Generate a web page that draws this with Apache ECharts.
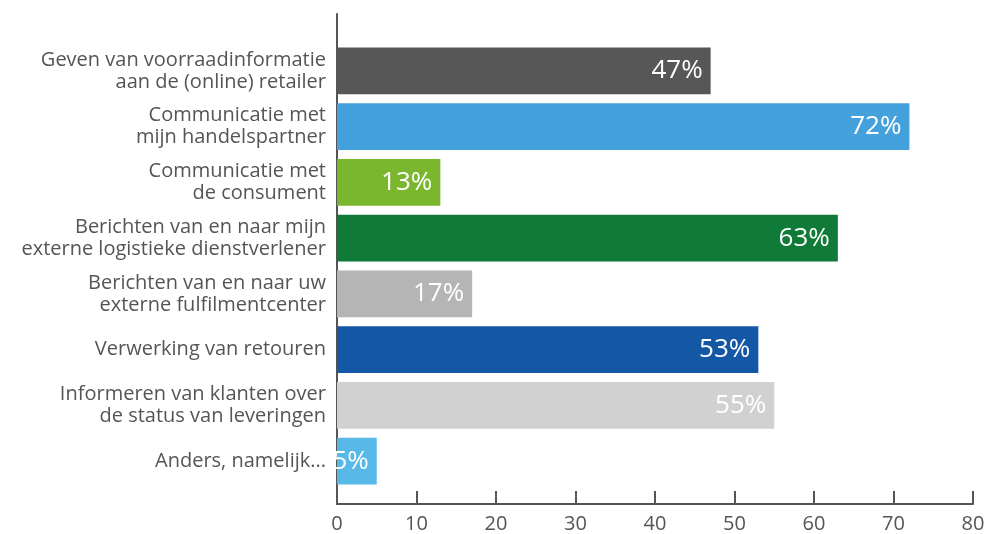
<!DOCTYPE html>
<html>
<head>
<meta charset="utf-8">
<script src="https://cdn.jsdelivr.net/npm/echarts@6/dist/echarts.min.js"></script>
<style>
  html, body { margin: 0; padding: 0; background: #fff; }
  #chart { width: 1005px; height: 534px; }
</style>
</head>
<body>
<div id="chart"></div>
<script>
var categories = [
  'Geven van voorraadinformatie\naan de (online) retailer',
  'Communicatie met\nmijn handelspartner',
  'Communicatie met\nde consument',
  'Berichten van en naar mijn\nexterne logistieke dienstverlener',
  'Berichten van en naar uw\nexterne fulfilmentcenter',
  'Verwerking van retouren',
  'Informeren van klanten over\nde status van leveringen',
  'Anders, namelijk...'
];
var values = [47, 72, 13, 63, 17, 53, 55, 5];
var barColors = ['#575757', '#45a1db', '#7ab62e', '#107a38', '#b5b5b5', '#1457a5', '#d1d1d1', '#58b8e8'];
var xTicks = [0, 10, 20, 30, 40, 50, 60, 70, 80];

var font = '"Open Sans", "Noto Sans", sans-serif';
var chart = echarts.init(document.getElementById('chart'));

var option = {
  animation: false,
  grid: [
    { left: 337, right: 32, top: 43, height: 446 },
    { left: 337, right: 32, top: 14, height: 500 }
  ],
  xAxis: [
    { gridIndex: 0, type: 'value', min: 0, max: 80, show: false },
    {
      gridIndex: 1, type: 'value', min: xTicks[0], max: xTicks[xTicks.length - 1], interval: 10,
      axisLine: { lineStyle: { color: '#555', width: 2 } },
      axisTick: { inside: true, length: 13, lineStyle: { color: '#555', width: 2 } },
      splitLine: { show: false },
      axisLabel: { color: '#555', fontSize: 20, fontFamily: font, margin: 10 }
    }
  ],
  yAxis: [
    {
      gridIndex: 0, type: 'category', data: categories, inverse: true,
      axisLine: { show: false }, axisTick: { show: false },
      axisLabel: { color: '#555', fontSize: 20, lineHeight: 22, fontFamily: font, margin: 11, align: 'right' }
    },
    {
      gridIndex: 1, type: 'value', min: 0, max: 1,
      axisLine: { show: true, lineStyle: { color: '#555', width: 2 } },
      axisTick: { show: false }, axisLabel: { show: false }, splitLine: { show: false }
    }
  ],
  series: [{
    type: 'bar',
    xAxisIndex: 0,
    yAxisIndex: 0,
    data: values.map(function (v, i) {
      return { value: v, itemStyle: { color: barColors[i] } };
    }),
    barWidth: '84%',
    label: {
      show: true,
      position: 'insideRight',
      distance: 8,
      color: '#fff',
      fontSize: 26,
      fontFamily: font,
      formatter: '{c}%'
    }
  }]
};
chart.setOption(option);
</script>
</body>
</html>
